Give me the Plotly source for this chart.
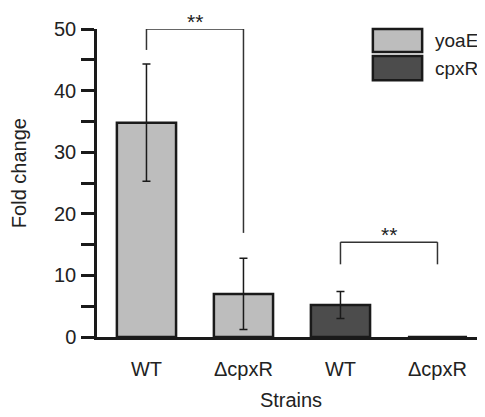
import plotly.graph_objects as go

categories = ["WT", "ΔcpxR", "WT", "ΔcpxR"]
yoaE_values = [34.8, 7.0, None, None]
yoaE_err = [9.5, 5.8, None, None]
cpxR_values = [None, None, 5.2, 0.0]
cpxR_err = [None, None, 2.2, None]
sig_labels = ["**", "**"]
y_ticks = [0, 10, 20, 30, 40, 50]

colors = {"yoaE": "#bdbdbd", "cpxR": "#4c4c4c"}
xs = list(range(len(categories)))

fig = go.Figure()
for name, vals, errs in [("yoaE", yoaE_values, yoaE_err), ("cpxR", cpxR_values, cpxR_err)]:
    fig.add_trace(go.Bar(
        x=xs, y=vals, name=name, width=0.61,
        marker=dict(color=colors[name], line=dict(color="#1a1a1a", width=2.5)),
        error_y=dict(type="data", array=errs, visible=True, color="#1a1a1a", thickness=1.5, width=4),
        showlegend=False,
    ))

# significance brackets
brackets = [(0, 1, 46.6, 16.9, 50.0), (2, 3, 11.8, 11.8, 15.4)]
for (a, b, ya, yb, top), lab in zip(brackets, sig_labels):
    fig.add_shape(type="line", x0=a, x1=a, y0=ya, y1=top, line=dict(color="#333", width=1.5))
    fig.add_shape(type="line", x0=a, x1=b, y0=top, y1=top, line=dict(color="#333", width=1.5))
    fig.add_shape(type="line", x0=b, x1=b, y0=top, y1=yb, line=dict(color="#333", width=1.5))
    fig.add_annotation(x=(a + b) / 2, y=top, text=lab, showarrow=False, yanchor="bottom",
                       yshift=-5, borderpad=0, font=dict(size=21, color="#222"))

# manual legend
leg = [("yoaE", 1.0, 0.925), ("cpxR", 0.912, 0.834)]
for name, y1, y0 in leg:
    fig.add_shape(type="rect", xref="paper", yref="paper", x0=0.711, x1=0.838, y0=y0, y1=y1,
                  fillcolor=colors[name], line=dict(color="#1a1a1a", width=2.5))
    fig.add_annotation(xref="paper", yref="paper", x=0.866, y=(y0 + y1) / 2, text=name,
                       showarrow=False, xanchor="left", yanchor="middle",
                       font=dict(size=19, color="#222"))

# y-axis title
fig.add_annotation(xref="paper", yref="paper", x=-0.201, y=0.532, text="Fold change",
                   textangle=-90, showarrow=False, xanchor="center", yanchor="middle",
                   font=dict(size=20, color="#222"))

fig.update_layout(
    width=477, height=409,
    margin=dict(l=89, r=0, t=21, b=80),
    plot_bgcolor="white", paper_bgcolor="white",
    barmode="overlay",
    font=dict(family="Liberation Sans, Arial", size=20, color="#222"),
    xaxis=dict(range=[-0.51, 3.49], tickvals=xs, ticktext=categories, ticks="",
               showline=True, linecolor="#1a1a1a", linewidth=2.5, showgrid=False, zeroline=False,
               ticklabelstandoff=12, automargin=False,
               title=dict(text="Strains", standoff=15, font=dict(size=20))),
    yaxis=dict(range=[0, 50], tickvals=y_ticks, ticks="outside", ticklen=13, tickwidth=2.5,
               tickcolor="#1a1a1a", showline=True, linecolor="#1a1a1a", linewidth=2.5,
               showgrid=False, zeroline=False, ticklabelstandoff=1, automargin=False,
               minor=dict(dtick=5, ticks="outside", ticklen=13, tickwidth=2.5, tickcolor="#1a1a1a")),
)

fig.write_html("out.html")
